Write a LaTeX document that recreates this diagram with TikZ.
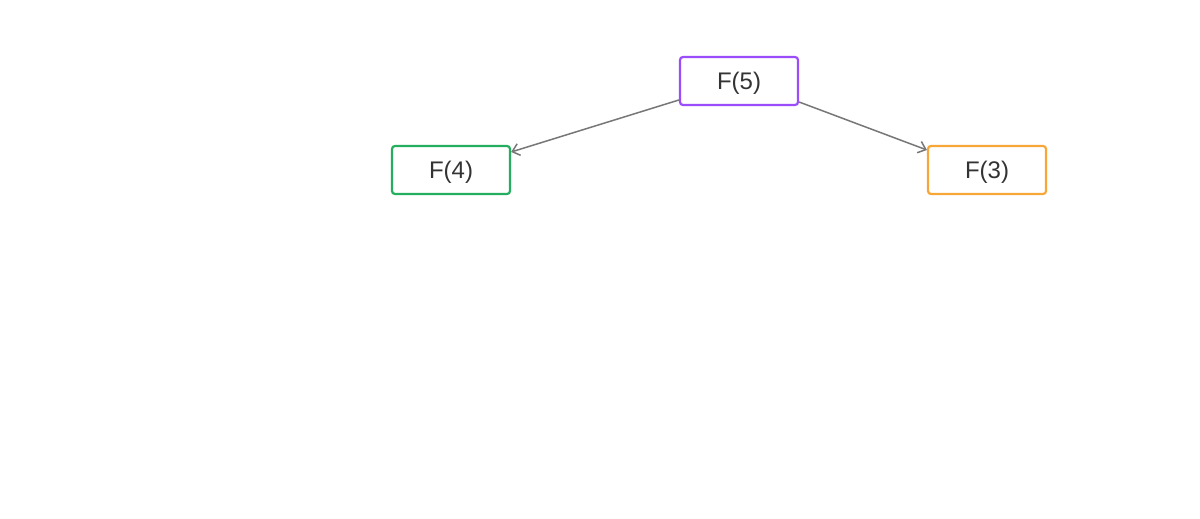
\documentclass[tikz,border=0pt]{standalone}
\usepackage{fontspec}
\setmainfont{Liberation Sans}
\usetikzlibrary{arrows.meta}
\definecolor{txt}{HTML}{333333}
\definecolor{cpurple}{HTML}{9B4DFA}
\definecolor{cgreen}{HTML}{25AE5F}
\definecolor{corange}{HTML}{F7A738}
\definecolor{cline}{HTML}{777777}
\tikzset{
  box/.style={draw, line width=2.2pt, rounded corners=3pt, minimum width=118pt, minimum height=48pt,
    text height=21.5pt, text depth=5pt, inner ysep=0pt,
    font=\fontsize{24pt}{28pt}\selectfont, text=txt, fill=white},
  conn/.style={draw=cline, line width=1.5pt, -{Straight Barb[length=7pt,width=12pt,line width=1.5pt]}}
}
\begin{document}
\begin{tikzpicture}[x=1pt,y=1pt]
\useasboundingbox (0,0) rectangle (1200,-519);
\fill[white] (0,0) rectangle (1200,-519);
\node[box, draw=cpurple] (f5) at (739,-81) {F(5)};
\node[box, draw=cgreen] (f4) at (451,-170) {F(4)};
\node[box, draw=corange] (f3) at (987,-170) {F(3)};
\draw[conn] ([yshift=-19pt]f5.west) -- ([yshift=18pt]f4.east);
\draw[conn] ([yshift=-21pt]f5.east) -- ([yshift=20pt]f3.west);
\end{tikzpicture}
\end{document}
